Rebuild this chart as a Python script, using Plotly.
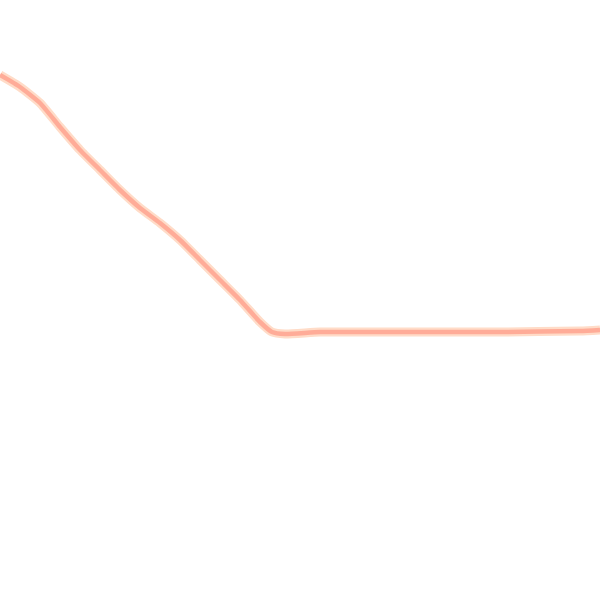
import plotly.graph_objects as go

x_vals = [0, 20, 40, 60, 80, 100, 120, 140, 160, 180, 200, 220, 240, 260, 272, 285, 320, 400, 500, 580, 600]
y_vals = [75, 87, 103, 127, 150, 170, 190, 208, 223, 240, 260, 280, 300, 322, 332, 334, 332, 332, 332, 331, 330]

fig = go.Figure()
fig.add_trace(go.Scatter(x=x_vals, y=y_vals, mode="lines",
                         line=dict(color="#FFDCC8", width=9, shape="spline", smoothing=0.5),
                         hoverinfo="skip", showlegend=False))
fig.add_trace(go.Scatter(x=x_vals, y=y_vals, mode="lines",
                         line=dict(color="#FFAC98", width=4.5, shape="spline", smoothing=0.5),
                         hoverinfo="skip", showlegend=False))
fig.update_layout(
    width=600, height=600,
    margin=dict(l=0, r=0, t=0, b=0),
    paper_bgcolor="white", plot_bgcolor="white",
    hovermode=False,
    xaxis=dict(range=[0, 600], visible=False),
    yaxis=dict(range=[600, 0], visible=False),
)
fig.write_html("out.html", config={"displayModeBar": False, "staticPlot": True},
               post_script="document.body.style.margin='0';document.body.style.padding='0';")
